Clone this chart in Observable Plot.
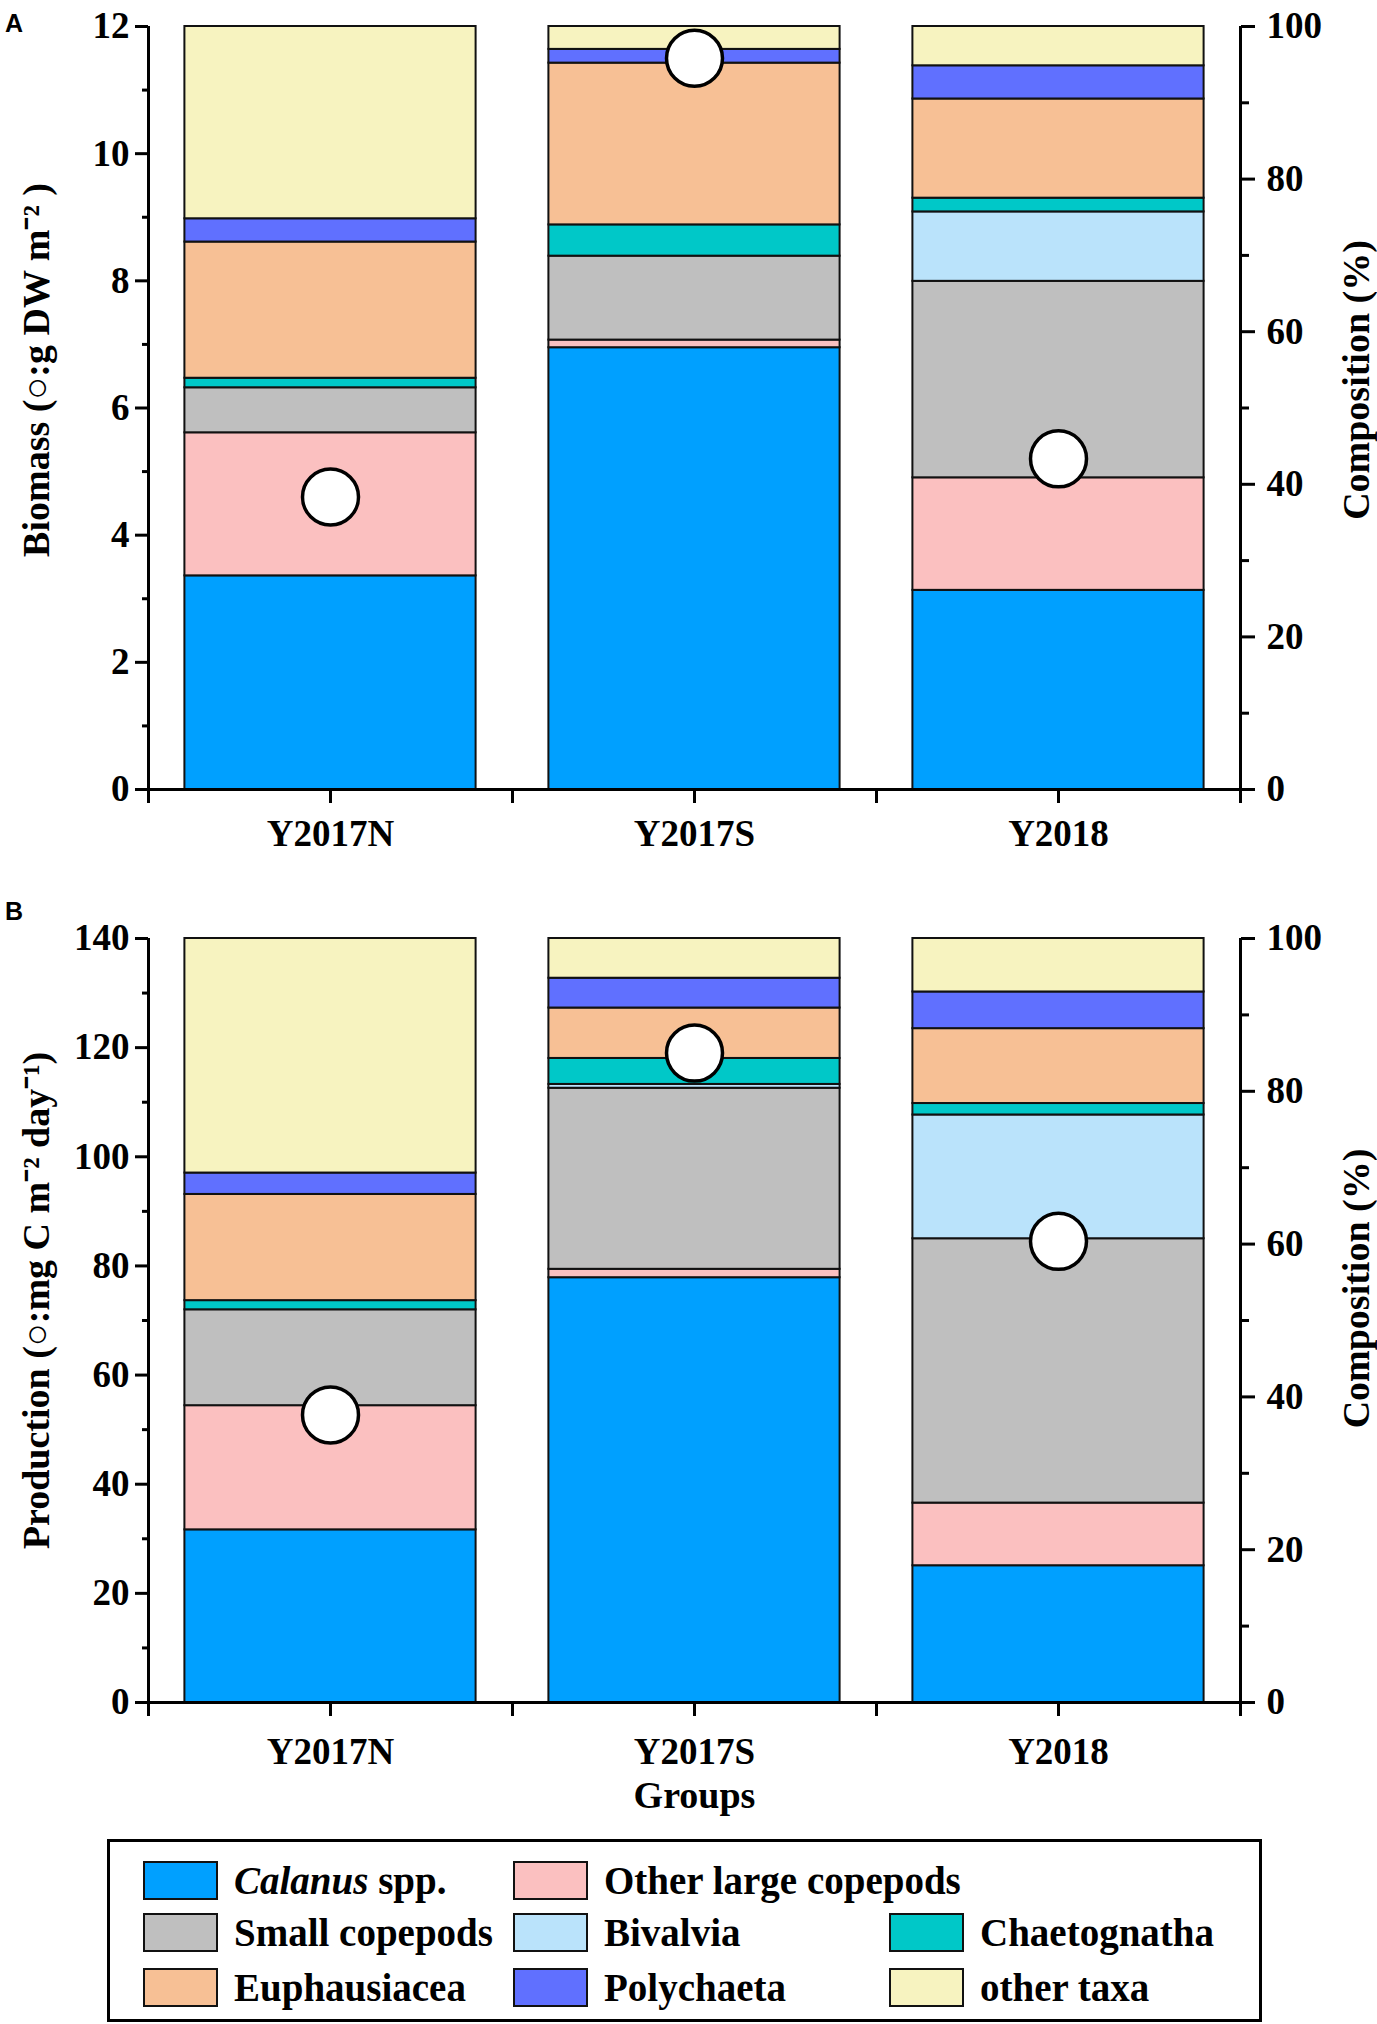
<!DOCTYPE html>
<html>
<head>
<meta charset="utf-8">
<script src="https://cdn.jsdelivr.net/npm/d3@7"></script>
<script src="https://cdn.jsdelivr.net/npm/@observablehq/plot@0.6"></script>
<style>
  html, body { margin: 0; padding: 0; background: #fff; }
  #page { position: relative; width: 1377px; height: 2024px; font-family: "Liberation Serif", "Times New Roman", serif; font-weight: bold; }
  .panel { position: absolute; left: 0; }
  .letter { position: absolute; font-family: "Liberation Sans", Arial, sans-serif; font-weight: bold; font-size: 25px; }
  #legend { position: absolute; left: 107px; top: 1839px; width: 1149px; height: 177px; border: 3px solid #000; background: #fff; }
  .item { position: absolute; height: 39px; display: flex; align-items: center; font-size: 39px; white-space: nowrap; }
  .sw { width: 71px; height: 35px; border: 2px solid #111; margin-right: 16px; flex: none; }
</style>
</head>
<body>
<div id="page">
  <div class="letter" style="left:5px;top:9px;">A</div>
  <div class="letter" style="left:5px;top:897px;">B</div>
  <div id="panelA" class="panel" style="top:0px;"></div>
  <div id="panelB" class="panel" style="top:880px;"></div>
  <div id="legend"></div>
</div>
<script>
// ---- data ----
const groups = ["Y2017N", "Y2017S", "Y2018"];
const taxa = ["Calanus spp.", "Other large copepods", "Small copepods", "Bivalvia", "Chaetognatha", "Euphausiacea", "Polychaeta", "other taxa"];
const taxaColors = ["#00a0ff", "#fbc0c0", "#bfbfbf", "#bae3fb", "#00c8c8", "#f7c095", "#6070ff", "#f7f3c0"];

// composition (%) per taxon, order = taxa, per group
const biomassPctY2017N = [28.0, 18.75, 5.9, 0, 1.25, 17.85, 3.05, 25.2];
const biomassPctY2017S = [57.9, 1.0, 11.0, 0, 4.1, 21.2, 1.8, 3.0];
const biomassPctY2018  = [26.1, 14.75, 25.75, 9.1, 1.8, 13.0, 4.35, 5.15];
const biomassTotal = [4.6, 11.5, 5.2];           // g DW m-2 (circles)

const prodPctY2017N = [22.6, 16.25, 12.55, 0, 1.2, 13.9, 2.8, 30.7];
const prodPctY2017S = [55.6, 1.1, 23.7, 0.5, 3.4, 6.6, 3.9, 5.2];
const prodPctY2018  = [17.9, 8.2, 34.6, 16.2, 1.5, 9.8, 4.8, 7.0];
const prodTotal = [52.7, 119, 84.5];             // mg C m-2 day-1 (circles)

const biomassTicks = [0, 2, 4, 6, 8, 10, 12];
const biomassMinor = [1, 3, 5, 7, 9, 11];
const prodTicks = [0, 20, 40, 60, 80, 100, 120, 140];
const prodMinor = [10, 30, 50, 70, 90, 110, 130];
const pctTicks = [0, 20, 40, 60, 80, 100];
const pctMinor = [10, 30, 50, 70, 90];

// ---- helpers ----
function segmentsOf(pctLists) {
  const out = [];
  pctLists.forEach((list, gi) => {
    let acc = 0;
    list.forEach((v, ti) => {
      if (v > 0) out.push({group: groups[gi], gi, taxon: taxa[ti], y1: acc, y2: acc + v});
      acc += v;
    });
  });
  return out;
}

function panel({pcts, totals, leftMax, leftTicks, leftMinor, leftLabel, leftDy, rightDy, height, marginTop, marginBottom, xPad, xTitle}) {
  const segs = segmentsOf(pcts);
  const tot = totals.map((v, gi) => ({gi, v}));
  const toPct = v => v / leftMax * 100;
  const marks = [
    Plot.rect(segs, {x1: d => d.gi + 0.1, x2: d => d.gi + 0.9, y1: "y1", y2: "y2", fill: "taxon", stroke: "#111", strokeWidth: 2}),
    Plot.dot(tot, {x: d => d.gi + 0.5, y: d => toPct(d.v), r: 28, fill: "white", stroke: "black", strokeWidth: 3.5}),
    Plot.ruleX([0, 3], {y1: 0, y2: 100, stroke: "black", strokeWidth: 3}),
    Plot.ruleY([0], {x1: 0, x2: 3, stroke: "black", strokeWidth: 3}),
    Plot.axisY(leftTicks.map(toPct), {anchor: "left", tickSize: 13, tickPadding: 6, strokeWidth: 3, tickFormat: d => String(Math.round(d * leftMax / 100))}),
    Plot.axisY(leftMinor.map(toPct), {anchor: "left", tickSize: 6, strokeWidth: 3, tickFormat: () => ""}),
    Plot.axisY(pctTicks, {anchor: "right", tickSize: 14, tickPadding: 12, strokeWidth: 3}),
    Plot.axisY(pctMinor, {anchor: "right", tickSize: 8, strokeWidth: 3, tickFormat: () => ""}),
    Plot.axisX([0.5, 1.5, 2.5], {anchor: "bottom", tickSize: 14, tickPadding: xPad, strokeWidth: 3, tickFormat: d => groups[Math.floor(d)]}),
    Plot.axisX([0, 1, 2, 3], {anchor: "bottom", tickSize: 14, strokeWidth: 3, tickFormat: () => ""}),
    Plot.text([leftLabel], {frameAnchor: "left", textAnchor: "middle", rotate: -90, dx: -112, dy: leftDy, fontSize: 38}),
    Plot.text(["Composition (%)"], {frameAnchor: "right", textAnchor: "middle", rotate: -90, dx: 116, dy: rightDy, fontSize: 38})
  ];
  if (xTitle) marks.push(Plot.text([xTitle], {frameAnchor: "bottom", dy: 105, fontSize: 38}));
  return Plot.plot({
    width: 1377,
    height,
    marginLeft: 148,
    marginRight: 137,
    marginTop,
    marginBottom,
    x: {domain: [0, 3], axis: null},
    y: {domain: [0, 100], axis: null},
    color: {domain: taxa, range: taxaColors},
    style: {fontFamily: "'Liberation Serif', 'Times New Roman', serif", fontWeight: "bold", fontSize: "37px", color: "black", background: "transparent", overflow: "visible"},
    marks
  });
}

document.getElementById("panelA").appendChild(panel({
  pcts: [biomassPctY2017N, biomassPctY2017S, biomassPctY2018],
  totals: biomassTotal, leftMax: 12, leftTicks: biomassTicks, leftMinor: biomassMinor,
  leftLabel: "Biomass (○:g DW m⁻² )", leftDy: -38, rightDy: -28,
  height: 880, marginTop: 26, marginBottom: 91, xPad: 16
}));

document.getElementById("panelB").appendChild(panel({
  pcts: [prodPctY2017N, prodPctY2017S, prodPctY2018],
  totals: prodTotal, leftMax: 140, leftTicks: prodTicks, leftMinor: prodMinor,
  leftLabel: "Production (○:mg C m⁻² day⁻¹)", leftDy: -20, rightDy: -32,
  height: 950, marginTop: 58, marginBottom: 128, xPad: 21, xTitle: "Groups"
}));

// ---- legend ----
const legendCols = [36, 406, 782];
const legendRows = [22, 74, 129];
const legendPos = [[0,0],[0,1],[1,0],[1,1],[1,2],[2,0],[2,1],[2,2]];
const legend = document.getElementById("legend");
taxa.forEach((t, i) => {
  const [r, c] = legendPos[i];
  const item = document.createElement("div");
  item.className = "item";
  item.style.left = (legendCols[c] - 3) + "px";
  item.style.top = (legendRows[r] - 3) + "px";
  const sw = document.createElement("div");
  sw.className = "sw";
  sw.style.background = taxaColors[i];
  item.appendChild(sw);
  const label = document.createElement("span");
  if (t === "Calanus spp.") {
    label.innerHTML = "<i>Calanus</i>&nbsp;spp.";
  } else {
    label.textContent = t;
  }
  item.appendChild(label);
  legend.appendChild(item);
});
</script>
</body>
</html>
